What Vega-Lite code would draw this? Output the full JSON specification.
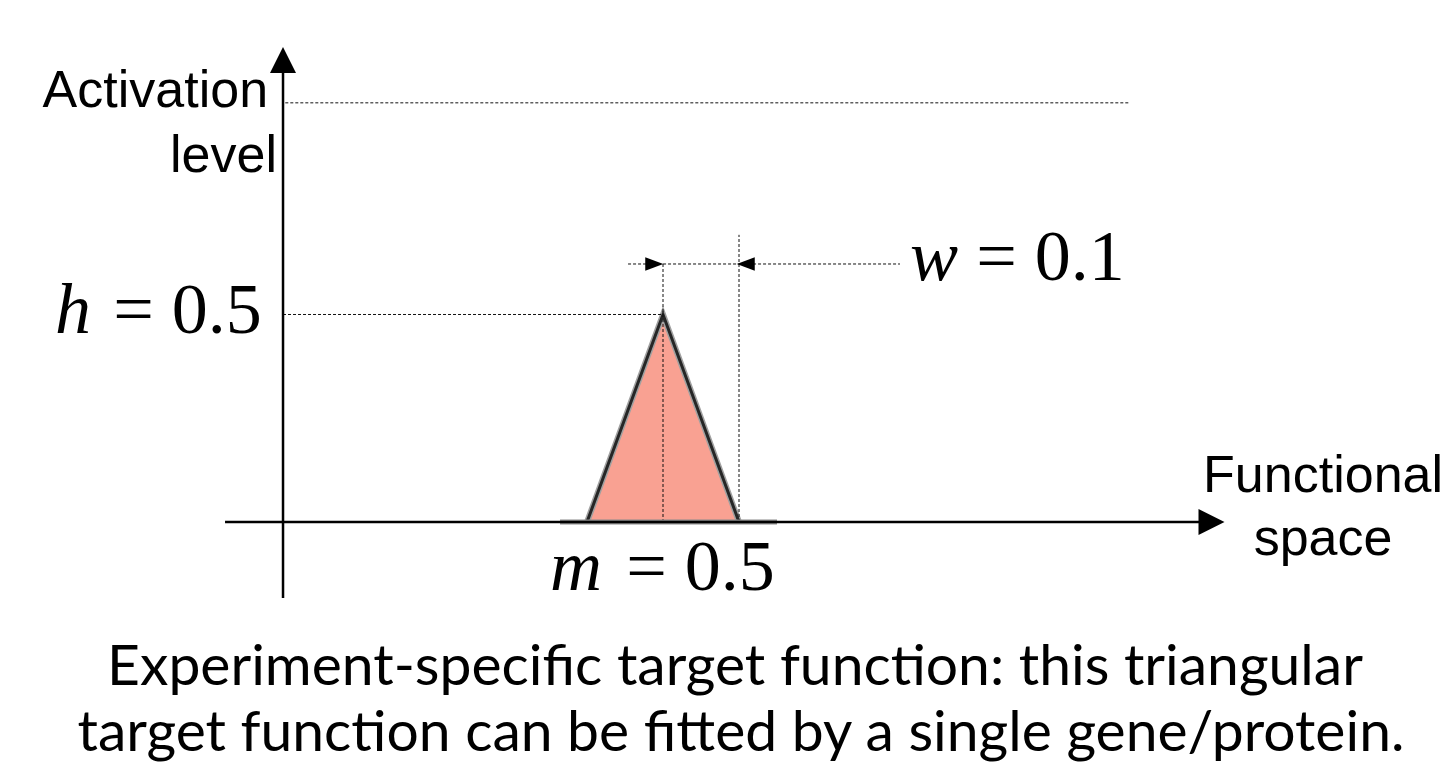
{
  "$schema": "https://vega.github.io/schema/vega-lite/v6.json",
  "width": 1448,
  "height": 784,
  "autosize": {"type": "fit", "contains": "padding"},
  "padding": 0,
  "background": "white",
  "config": {"view": {"stroke": null}},
  "datasets": {
    "tri": [
      {"x": 0.4, "y": 0},
      {"x": 0.5, "y": 0.5},
      {"x": 0.6, "y": 0}
    ],
    "dashed": [
      {"name": "max", "x": 0.003, "y": 1.01, "x2": 1.1145, "y2": 1.01},
      {"name": "h", "x": 0.0, "y": 0.5, "x2": 0.5, "y2": 0.5},
      {"name": "m", "x": 0.5, "y": 0.0, "x2": 0.5, "y2": 0.624},
      {"name": "mw", "x": 0.6, "y": 0.0, "x2": 0.6, "y2": 0.692},
      {"name": "w", "x": 0.454, "y": 0.6217, "x2": 0.8118, "y2": 0.6217}
    ],
    "axes": [
      {"name": "functional", "x": -0.0763, "y": 0, "x2": 1.2066, "y2": 0},
      {"name": "activation", "x": 0, "y": -0.183, "x2": 0, "y2": 1.10}
    ],
    "base": [
      {"x": 0.3645, "y": 0, "x2": 0.65, "y2": 0}
    ],
    "arrows": [
      {"dir": "up", "kind": "axis", "x": 0, "y": 1.113},
      {"dir": "right", "kind": "axis", "x": 1.2217, "y": 0},
      {"dir": "right_s", "kind": "dim", "x": 0.4885, "y": 0.6217},
      {"dir": "left_s", "kind": "dim", "x": 0.6089, "y": 0.6217}
    ],
    "sans": [
      {"label": "Activation", "x": -0.168, "y": 1.0},
      {"label": "level", "x": -0.0783, "y": 0.843},
      {"label": "Functional", "x": 1.3685, "y": 0.0723},
      {"label": "space", "x": 1.3685, "y": -0.0795}
    ],
    "mathvar": [
      {"label": "h", "x": -0.2763, "y": 0.4554},
      {"label": "w", "x": 0.8566, "y": 0.5831},
      {"label": "m", "x": 0.3855, "y": -0.1639}
    ],
    "mathval": [
      {"label": "= 0.5", "x": -0.1257, "y": 0.4554},
      {"label": "= 0.1", "x": 1.0099, "y": 0.5831},
      {"label": "= 0.5", "x": 0.5493, "y": -0.1639}
    ],
    "caption": [
      {"label": "Experiment-specific target function: this triangular", "x": 0.5947, "y": -0.3928},
      {"label": "target function can be fitted by a single gene/protein.", "x": 0.6026, "y": -0.5518}
    ]
  },
  "layer": [
    {
      "data": {"name": "tri"},
      "mark": {"type": "area", "color": "#f9a192", "opacity": 1},
      "encoding": {
        "x": {"field": "x", "type": "quantitative", "axis": null, "scale": {"domain": [-0.3724, 1.5329], "nice": false, "zero": false}},
        "y": {"field": "y", "type": "quantitative", "axis": null, "scale": {"domain": [-0.6313, 1.2578], "nice": false, "zero": false}}
      }
    },
    {
      "data": {"name": "tri"},
      "mark": {"type": "line", "color": "#a0a0a0", "strokeWidth": 6, "strokeJoin": "miter"},
      "encoding": {
        "x": {"field": "x", "type": "quantitative"},
        "y": {"field": "y", "type": "quantitative"}
      }
    },
    {
      "data": {"name": "tri"},
      "mark": {"type": "line", "color": "#262626", "strokeWidth": 3, "strokeJoin": "miter"},
      "encoding": {
        "x": {"field": "x", "type": "quantitative"},
        "y": {"field": "y", "type": "quantitative"}
      }
    },
    {
      "data": {"name": "dashed"},
      "mark": {"type": "rule", "color": "#111111", "strokeWidth": 1, "strokeDash": [3, 2]},
      "encoding": {
        "x": {"field": "x", "type": "quantitative"},
        "y": {"field": "y", "type": "quantitative"},
        "x2": {"field": "x2"},
        "y2": {"field": "y2"}
      }
    },
    {
      "data": {"name": "base"},
      "mark": {"type": "rule", "color": "#8a8a8a", "strokeWidth": 5},
      "encoding": {
        "x": {"field": "x", "type": "quantitative"},
        "y": {"field": "y", "type": "quantitative"},
        "x2": {"field": "x2"},
        "y2": {"field": "y2"}
      }
    },
    {
      "data": {"name": "axes"},
      "mark": {"type": "rule", "color": "black", "strokeWidth": 2.5},
      "encoding": {
        "x": {"field": "x", "type": "quantitative"},
        "y": {"field": "y", "type": "quantitative"},
        "x2": {"field": "x2"},
        "y2": {"field": "y2"}
      }
    },
    {
      "data": {"name": "arrows"},
      "transform": [{"filter": "datum.kind === 'axis'"}],
      "mark": {"type": "point", "filled": true, "color": "black", "opacity": 1, "size": 676},
      "encoding": {
        "x": {"field": "x", "type": "quantitative"},
        "y": {"field": "y", "type": "quantitative"},
        "shape": {"field": "dir", "type": "nominal", "legend": null,
          "scale": {"domain": ["up", "right", "right_s", "left_s"],
                    "range": ["M0,-1L1,1L-1,1Z", "M1,0L-1,-1L-1,1Z", "M1,0L-1,-0.75L-1,0.75Z", "M-1,0L1,-0.75L1,0.75Z"]}}
      }
    },
    {
      "data": {"name": "arrows"},
      "transform": [{"filter": "datum.kind === 'dim'"}],
      "mark": {"type": "point", "filled": true, "color": "black", "opacity": 1, "size": 324},
      "encoding": {
        "x": {"field": "x", "type": "quantitative"},
        "y": {"field": "y", "type": "quantitative"},
        "shape": {"field": "dir", "type": "nominal", "legend": null}
      }
    },
    {
      "data": {"name": "sans"},
      "mark": {"type": "text", "font": "Liberation Sans", "fontSize": 52, "align": "center", "baseline": "alphabetic", "color": "black"},
      "encoding": {
        "x": {"field": "x", "type": "quantitative"},
        "y": {"field": "y", "type": "quantitative"},
        "text": {"field": "label"}
      }
    },
    {
      "data": {"name": "mathvar"},
      "mark": {"type": "text", "font": "Liberation Serif", "fontStyle": "italic", "fontSize": 72, "align": "center", "baseline": "alphabetic", "color": "black"},
      "encoding": {
        "x": {"field": "x", "type": "quantitative"},
        "y": {"field": "y", "type": "quantitative"},
        "text": {"field": "label"}
      }
    },
    {
      "data": {"name": "mathval"},
      "mark": {"type": "text", "font": "Liberation Serif", "fontSize": 72, "align": "center", "baseline": "alphabetic", "color": "black"},
      "encoding": {
        "x": {"field": "x", "type": "quantitative"},
        "y": {"field": "y", "type": "quantitative"},
        "text": {"field": "label"}
      }
    },
    {
      "data": {"name": "caption"},
      "mark": {"type": "text", "font": "Lato", "fontSize": 57, "align": "center", "baseline": "alphabetic", "color": "black"},
      "encoding": {
        "x": {"field": "x", "type": "quantitative"},
        "y": {"field": "y", "type": "quantitative"},
        "text": {"field": "label"}
      }
    }
  ]
}
